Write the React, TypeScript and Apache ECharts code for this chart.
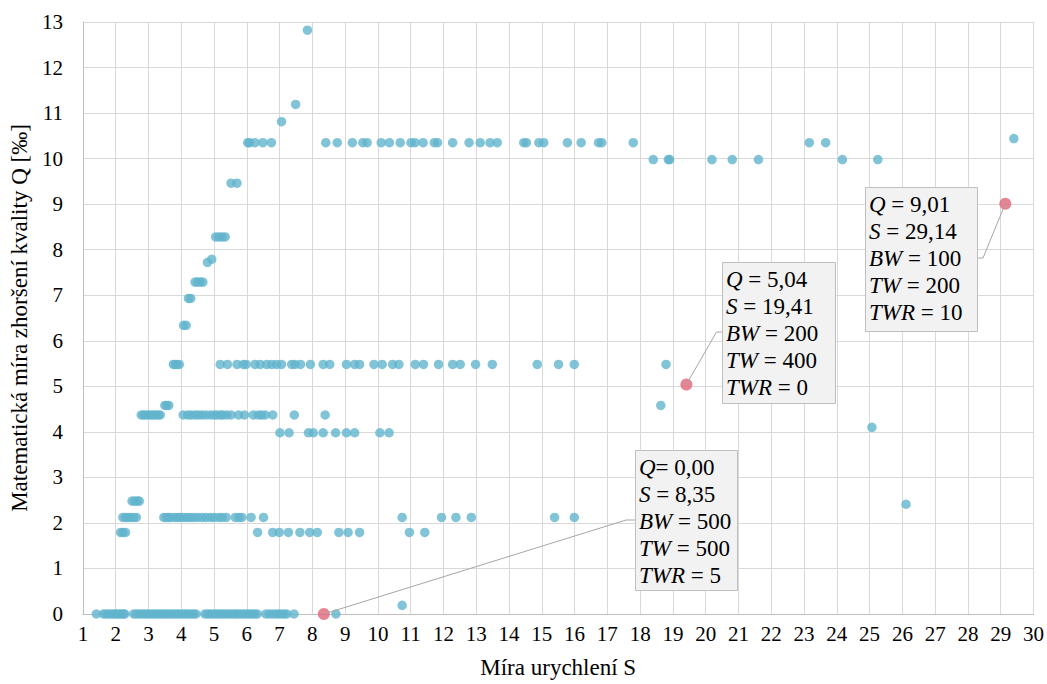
import React, { useEffect, useRef } from "react";
import * as echarts from "echarts";

// ---- data: S values (x) grouped by their Q level (y) ----
const sQ0 = [1.41, 1.62, 1.7, 1.78, 1.86, 1.93, 2.0, 2.06, 2.12, 2.18, 2.24, 2.28, 2.55, 2.63, 2.72, 2.8, 2.88, 2.95, 3.02, 3.1, 3.18, 3.25, 3.33, 3.4, 3.48, 3.55, 3.62, 3.7, 3.78, 3.85, 3.92, 4.0, 4.08, 4.15, 4.22, 4.3, 4.38, 4.45, 4.72, 4.8, 4.88, 4.95, 5.03, 5.1, 5.18, 5.25, 5.33, 5.42, 5.5, 5.58, 5.65, 5.72, 5.8, 5.88, 5.95, 6.03, 6.1, 6.18, 6.25, 6.32, 6.58, 6.68, 6.78, 6.88, 6.97, 7.05, 7.14, 7.22, 7.44, 8.72];
const sQ019 = [10.74];
const sQ179 = [2.15, 2.22, 2.3, 6.33, 6.79, 6.99, 7.27, 7.62, 7.92, 8.15, 8.81, 9.09, 9.44, 10.96, 11.43];
const sQ212 = [2.22, 2.3, 2.38, 2.46, 2.55, 2.63, 3.47, 3.55, 3.62, 3.7, 3.82, 3.9, 3.98, 4.08, 4.18, 4.28, 4.38, 4.5, 4.63, 4.75, 4.89, 5.0, 5.14, 5.25, 5.37, 5.65, 5.76, 5.85, 6.13, 6.51, 10.74, 11.94, 12.38, 12.85, 15.39, 15.99];
const sQ241 = [26.11];
const sQ248 = [2.5, 2.58, 2.66, 2.72];
const sQ398 = [7.01, 7.29, 7.88, 8.03, 8.33, 8.71, 9.04, 9.29, 10.06, 10.34];
const sQ410 = [25.07];
const sQ437 = [2.78, 2.85, 2.92, 3.0, 3.08, 3.15, 3.22, 3.3, 3.36, 4.06, 4.2, 4.3, 4.42, 4.52, 4.63, 4.75, 4.89, 5.0, 5.09, 5.2, 5.27, 5.39, 5.52, 5.75, 5.93, 6.2, 6.35, 6.45, 6.56, 6.79, 7.45, 8.39];
const sQ458 = [3.5, 3.56, 3.62, 18.63];
const sQ548 = [3.76, 3.82, 3.88, 3.94, 5.19, 5.41, 5.7, 5.9, 5.98, 6.25, 6.41, 6.61, 6.76, 6.91, 7.06, 7.37, 7.47, 7.64, 7.94, 8.33, 8.53, 9.04, 9.29, 9.44, 9.88, 10.13, 10.45, 10.64, 11.14, 11.39, 11.85, 12.28, 12.51, 12.98, 13.49, 14.86, 15.51, 15.99, 18.79];
const sQ634 = [4.07, 4.15];
const sQ693 = [4.22, 4.29];
const sQ729 = [4.42, 4.5, 4.58, 4.66];
const sQ772 = [4.8];
const sQ779 = [4.93];
const sQ828 = [5.05, 5.15, 5.25, 5.34];
const sQ946 = [5.52, 5.7];
const sQ998 = [18.4, 18.86, 18.9, 20.19, 20.81, 21.61, 24.17, 25.25];
const sQ1035 = [6.03, 6.08, 6.25, 6.49, 6.75, 8.41, 8.76, 9.22, 9.54, 9.67, 10.1, 10.35, 10.68, 11.01, 11.13, 11.38, 11.72, 11.82, 12.28, 12.78, 13.12, 13.42, 13.64, 14.45, 14.53, 14.91, 15.06, 15.78, 16.2, 16.73, 16.83, 17.79, 23.16, 23.66];
const sQ1044 = [29.4];
const sQ1081 = [7.06];
const sQ1119 = [7.49];
const sQ1282 = [7.85];

const rows: [number, number[]][] = [
  [0, sQ0], [0.19, sQ019], [1.79, sQ179], [2.12, sQ212], [2.41, sQ241], [2.48, sQ248],
  [3.98, sQ398], [4.1, sQ410], [4.37, sQ437], [4.58, sQ458], [5.48, sQ548], [6.34, sQ634],
  [6.93, sQ693], [7.29, sQ729], [7.72, sQ772], [7.79, sQ779], [8.28, sQ828], [9.46, sQ946],
  [9.98, sQ998], [10.35, sQ1035], [10.44, sQ1044], [10.81, sQ1081], [11.19, sQ1119], [12.82, sQ1282],
];

// highlighted solutions
const hiS = [8.35, 19.41, 29.14];
const hiQ = [0, 5.04, 9.01];
const hiBW = [500, 200, 100];
const hiTW = [500, 400, 200];
const hiTWR = [5, 0, 10];
const hiQSep = ["", " ", " "];

const xTicks = { min: 1, max: 30, step: 1 };
const yTicks = { min: 0, max: 13, step: 1 };

const FONT = "Liberation Serif";

// annotation box layout (pixels): [x, y, w, h], elbow point [x, y]
const boxes = [
  { x: 635, y: 450, w: 102, h: 140, ex: 626, ey: 520, side: "left" },
  { x: 722, y: 262, w: 113, h: 141, ex: 716.5, ey: 332, side: "left" },
  { x: 865, y: 187, w: 112, h: 144, ex: 983, ey: 258, side: "right" },
];

const fmt = (v: number) => v.toFixed(2).replace(".", ",");

export default function App() {
  const ref = useRef<HTMLDivElement>(null);
  useEffect(() => {
    if (!ref.current) return;
    const chart = echarts.init(ref.current, null, { renderer: "svg" });
    const data: number[][] = [];
    rows.forEach(([q, ss]) => ss.forEach((s) => data.push([s, q])));
    const hiData = hiS.map((s, i) => [s, hiQ[i]]);
    const axisLabel = { fontSize: 21, fontFamily: FONT, color: "#000" };
    chart.setOption({
      animation: false,
      backgroundColor: "#fff",
      textStyle: { fontFamily: FONT },
      grid: { left: 79, right: 13, top: 22, bottom: 70, containLabel: false },
      xAxis: {
        type: "value",
        min: xTicks.min,
        max: xTicks.max,
        interval: xTicks.step,
        name: "Míra urychlení S",
        nameLocation: "middle",
        nameGap: 42,
        nameTextStyle: { fontSize: 23, fontFamily: FONT, color: "#000" },
        axisLine: { show: true, lineStyle: { color: "#bfbfbf", width: 1 } },
        axisTick: { show: false },
        axisLabel: { ...axisLabel, margin: 9 },
        splitLine: { show: true, lineStyle: { color: "#d9d9d9", width: 1 } },
      },
      yAxis: {
        type: "value",
        min: yTicks.min,
        max: yTicks.max,
        interval: yTicks.step,
        name: "Matematická míra zhoršení kvality Q [‰]",
        nameLocation: "middle",
        nameGap: 50,
        nameRotate: 90,
        nameTextStyle: { fontSize: 23, fontFamily: FONT, color: "#000" },
        axisLine: { show: true, lineStyle: { color: "#bfbfbf", width: 1 } },
        axisTick: { show: false },
        axisLabel: { ...axisLabel, margin: 20 },
        splitLine: { show: true, lineStyle: { color: "#d9d9d9", width: 1 } },
      },
      series: [
        {
          type: "scatter",
          data,
          symbol: "circle",
          symbolSize: 9.5,
          itemStyle: { color: "#62B4CD" },
          z: 2,
        },
        {
          type: "scatter",
          data: hiData,
          symbol: "circle",
          symbolSize: 12,
          itemStyle: { color: "#E16579" },
          z: 3,
        },
      ],
    });

    const graphics: any[] = [];
    const rich = {
      i: { fontStyle: "italic", fontSize: 23, fontFamily: FONT, lineHeight: 27, fill: "#000" },
      n: { fontSize: 23, fontFamily: FONT, lineHeight: 27, fill: "#000" },
    };
    hiS.forEach((s, k) => {
      const p = chart.convertToPixel({ gridIndex: 0 }, [s, hiQ[k]]) as number[];
      const b = boxes[k];
      const edgeX = b.side === "left" ? b.x : b.x + b.w;
      graphics.push({
        type: "polyline",
        z: 100,
        shape: { points: [[p[0], p[1]], [b.ex, b.ey], [edgeX, b.ey]] },
        style: { stroke: "#a6a6a6", lineWidth: 1, fill: null },
      });
      graphics.push({
        type: "rect",
        z: 101,
        shape: { x: b.x + 0.5, y: b.y + 0.5, width: b.w, height: b.h },
        style: { fill: "#f2f2f2", stroke: "#bfbfbf", lineWidth: 1 },
      });
      const txt =
        `{i|Q}{n|${hiQSep[k]}= ${fmt(hiQ[k])}}\n` +
        `{i|S}{n| = ${fmt(s)}}\n` +
        `{i|BW}{n| = ${hiBW[k]}}\n` +
        `{i|TW}{n| = ${hiTW[k]}}\n` +
        `{i|TWR}{n| = ${hiTWR[k]}}`;
      graphics.push({
        type: "text",
        z: 102,
        x: b.x + 4,
        y: b.y + 4,
        style: { text: txt, rich, fontSize: 23, fontFamily: FONT, lineHeight: 27, verticalAlign: "top", align: "left" },
      });
    });
    chart.setOption({ graphic: graphics });
    return () => chart.dispose();
  }, []);
  return (
    <div
      ref={ref}
      style={{ position: "fixed", left: 0, top: 0, width: 1047, height: 684, background: "#fff" }}
    />
  );
}
